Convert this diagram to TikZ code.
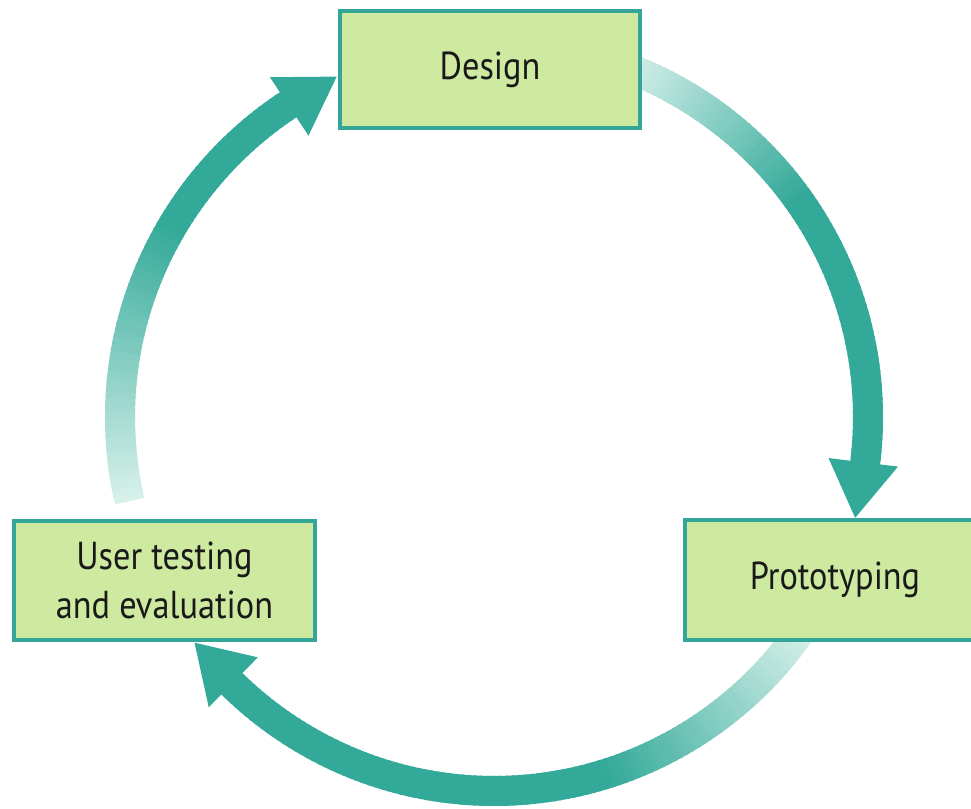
\documentclass[tikz,border=0pt]{standalone}
\usepackage{fontspec}
\setmainfont{PT Sans}[FakeStretch=0.88]
\definecolor{ringteal}{RGB}{50,169,153}
\definecolor{ringlight}{RGB}{214,240,234}
\definecolor{boxfill}{RGB}{205,234,160}
\definecolor{boxline}{RGB}{52,165,150}
\tikzset{
  stagebox/.style={draw=boxline, line width=3.5pt, fill=boxfill, inner sep=0pt,
    align=center, font=\fontsize{39}{49}\selectfont, text=black!90},
}
\begin{document}
\begin{tikzpicture}[x=1pt,y=1pt]
\useasboundingbox (0,0) rectangle (971,808);
\coordinate (c) at (494,391);
% ring segments with gradient (start angle / fully dark angle / end angle)
\foreach \s/\f/\e in {70/36/-7, -34/-72/-134.5, 193/150/123.4} {
  \pgfmathsetmacro\n{int(ceil(abs(\s-\e)))}
  \foreach \i in {1,...,\n} {
    \pgfmathsetmacro\a{\s-(\i-1)*(\s-\e)/\n}
    \pgfmathsetmacro\b{\s-\i*(\s-\e)/\n-0.5}
    \pgfmathtruncatemacro\p{min(100,max(0,(\s-\a)/(\s-\f)*100))}
    \draw[line width=30pt, ringteal!\p!ringlight]
      ([shift={(\a:374pt)}]c) arc[start angle=\a, end angle=\b, radius=374pt];
  }
}
% arrow heads (base angle / tip angle)
\foreach \bs/\tp in {-7/-15.6, -134.5/-143, 123.4/114.8} {
  \fill[ringteal] ([shift={(\bs:337pt)}]c) -- ([shift={(\tp:375pt)}]c)
    -- ([shift={(\bs:407pt)}]c) -- cycle;
}
% boxes
\node[stagebox, minimum width=300pt, minimum height=117pt] (design) at (490,738.5) {Design};
\node[stagebox, minimum width=290pt, minimum height=120pt] (proto) at (830,228) {\hspace*{10pt}Prototyping};
\node[stagebox, minimum width=301pt, minimum height=119pt] (user) at (164.5,227.5) {User testing\\and evaluation};
\end{tikzpicture}
\end{document}
